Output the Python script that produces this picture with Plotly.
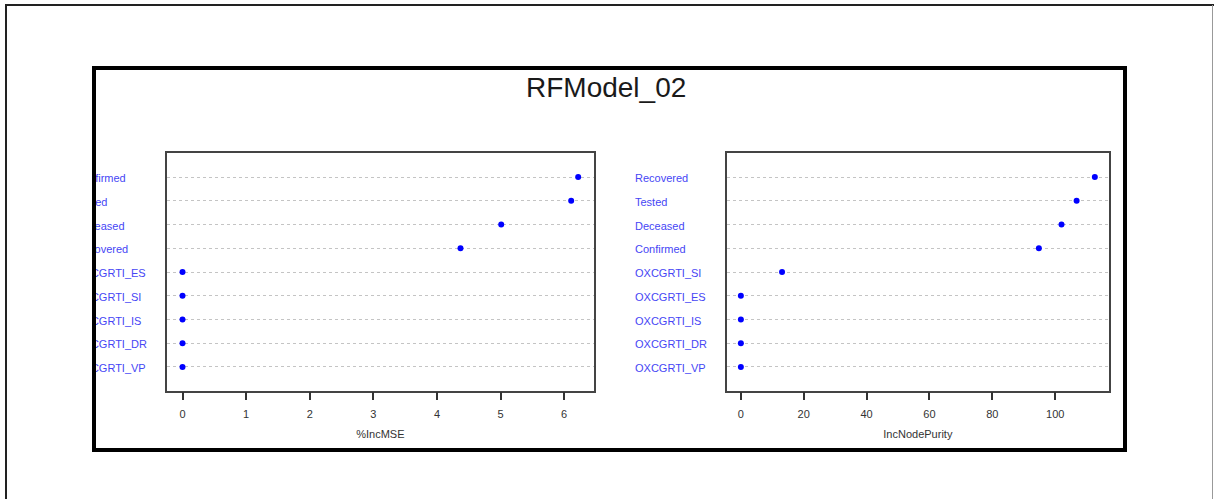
import plotly.graph_objects as go

# ---------------- data (bottom row first, as in R's dotchart) ----------------
mse_labels = ["OXCGRTI_VP", "OXCGRTI_DR", "OXCGRTI_IS", "OXCGRTI_SI", "OXCGRTI_ES",
              "Recovered", "Deceased", "Tested", "Confirmed"]
mse_values = [0.0, 0.0, 0.0, 0.0, 0.0, 4.37, 5.01, 6.11, 6.22]
mse_ticks = [0, 1, 2, 3, 4, 5, 6]

inp_labels = ["OXCGRTI_VP", "OXCGRTI_DR", "OXCGRTI_IS", "OXCGRTI_ES", "OXCGRTI_SI",
              "Confirmed", "Deceased", "Tested", "Recovered"]
inp_values = [0.0, 0.0, 0.0, 0.0, 13.1, 94.8, 102.0, 106.8, 112.6]
inp_ticks = [0, 20, 40, 60, 80, 100]

title_text = "RFModel_02"

# ---------------- geometry helpers ----------------
W, H = 1214, 499
def PX(x):
    return x / W
def PY(y):
    return 1 - y / H

def rng(v):
    lo, hi = min(v), max(v)
    s = hi - lo
    return [lo - 0.04 * s, hi + 0.04 * s]

FONT = "Liberation Sans, Arial, sans-serif"
rows = list(range(1, len(mse_labels) + 1))
ydom = [PY(390.7), PY(153.3)]
ydom_lab = [PY(393.0), PY(155.6)]

fig = go.Figure()

# dots
fig.add_trace(go.Scatter(x=mse_values, y=rows, mode="markers",
                         marker=dict(color="#0000ff", size=6), xaxis="x", yaxis="y",
                         showlegend=False, hoverinfo="skip"))
fig.add_trace(go.Scatter(x=inp_values, y=rows, mode="markers",
                         marker=dict(color="#0000ff", size=6), xaxis="x2", yaxis="y2",
                         showlegend=False, hoverinfo="skip"))
# row labels (left-aligned, like dotchart)
lab_font = dict(family=FONT, size=11, color="#4646f5")
fig.add_trace(go.Scatter(x=[0] * len(rows), y=rows, mode="text", text=mse_labels,
                         textposition="middle right", textfont=lab_font,
                         cliponaxis=False, xaxis="x3", yaxis="y3",
                         showlegend=False, hoverinfo="skip"))
fig.add_trace(go.Scatter(x=[0] * len(rows), y=rows, mode="text", text=inp_labels,
                         textposition="middle right", textfont=lab_font,
                         cliponaxis=False, xaxis="x4", yaxis="y4",
                         showlegend=False, hoverinfo="skip"))

tick_font = dict(family=FONT, size=11, color="#333333")
common_x = dict(showgrid=False, zeroline=False, ticks="outside", ticklen=8,
                tickwidth=1.5, tickcolor="#333333", showline=True, mirror=True,
                linecolor="#444444", linewidth=1.5, tickfont=tick_font,
                ticklabelstandoff=4, fixedrange=True)
common_y = dict(showticklabels=False, ticks="", showgrid=True, gridcolor="#c4c4c4",
                griddash="3px,3px", gridwidth=1, zeroline=False, showline=True,
                mirror=True, linecolor="#444444", linewidth=1.5, range=[0, 10],
                tickvals=rows, domain=ydom, fixedrange=True)

fig.update_layout(
    width=W, height=H,
    margin=dict(l=0, r=0, t=0, b=0),
    paper_bgcolor="white", plot_bgcolor="white",
    xaxis=dict(domain=[PX(166.7), PX(594)], range=rng(mse_values), tickvals=mse_ticks,
               title=dict(text="%IncMSE", font=tick_font, standoff=12), anchor="y",
               **common_x),
    yaxis=dict(anchor="x", **common_y),
    xaxis2=dict(domain=[PX(726.7), PX(1109)], range=rng(inp_values), tickvals=inp_ticks,
                title=dict(text="IncNodePurity", font=tick_font, standoff=12), anchor="y2",
                **common_x),
    yaxis2=dict(anchor="x2", **common_y),
    xaxis3=dict(domain=[PX(75), PX(166)], range=[0, 1], visible=False, anchor="y3"),
    yaxis3=dict(domain=ydom_lab, range=[0, 10], visible=False, anchor="x3"),
    xaxis4=dict(domain=[PX(635), PX(726)], range=[0, 1], visible=False, anchor="y4"),
    yaxis4=dict(domain=ydom_lab, range=[0, 10], visible=False, anchor="x4"),
)

fig.add_annotation(text=title_text, xref="paper", yref="paper", x=PX(606), y=PY(87),
                   xanchor="center", yanchor="middle", showarrow=False,
                   font=dict(family=FONT, size=28, color="#1a1a1a"))

shapes = [
    # white mask left of the black frame (clips the left-hand labels)
    dict(type="rect", xref="paper", yref="paper", x0=PX(8), x1=PX(93), y0=PY(499), y1=PY(8),
         fillcolor="white", line=dict(width=0), layer="above"),
    # black frame
    dict(type="rect", xref="paper", yref="paper", x0=PX(94), x1=PX(1125), y0=PY(450), y1=PY(68),
         line=dict(color="black", width=4), layer="above"),
    # page borders
    dict(type="line", xref="paper", yref="paper", x0=PX(5), x1=1, y0=PY(5), y1=PY(5),
         line=dict(color="#222222", width=2), layer="above"),
    dict(type="line", xref="paper", yref="paper", x0=PX(6), x1=PX(6), y0=PY(5), y1=0,
         line=dict(color="#222222", width=2), layer="above"),
    dict(type="line", xref="paper", yref="paper", x0=PX(1212.5), x1=PX(1212.5), y0=PY(5), y1=0,
         line=dict(color="#999999", width=1), layer="above"),
]
fig.update_layout(shapes=shapes)

fig.write_html("out.html")
